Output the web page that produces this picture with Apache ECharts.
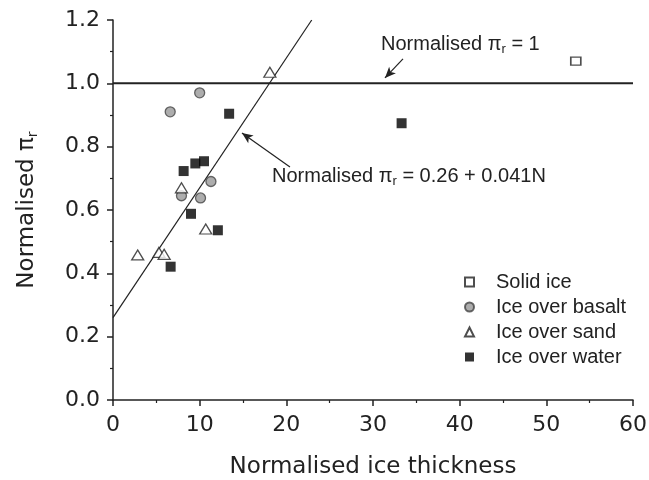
<!DOCTYPE html>
<html><head><meta charset="utf-8">
<script src="https://cdn.jsdelivr.net/npm/echarts@6/dist/echarts.min.js"></script>
<style>html,body{margin:0;padding:0;background:#fff}#c{width:649px;height:480px}</style>
</head><body><div id="c"></div>
<script>
// ---- data ----
const solidIceX = [53.4];
const solidIceY = [1.07];
const basaltX = [10.0, 6.6, 11.3, 7.9, 10.1];
const basaltY = [0.97, 0.91, 0.69, 0.645, 0.638];
const sandX = [18.1, 7.9, 10.7, 2.85, 5.3, 5.9];
const sandY = [1.035, 0.67, 0.54, 0.458, 0.466, 0.46];
const waterX = [13.4, 8.15, 9.5, 10.5, 9.0, 12.1, 6.65, 33.3];
const waterY = [0.904, 0.723, 0.747, 0.754, 0.588, 0.536, 0.421, 0.874];
const fitX = [0, 22.93];
const fitY = [0.26, 1.2];
const refX = [0, 60];
const refY = [1, 1];
const seriesNames = ['Solid ice', 'Ice over basalt', 'Ice over sand', 'Ice over water'];
const xTicks = [0, 10, 20, 30, 40, 50, 60];
const yTicks = [0.0, 0.2, 0.4, 0.6, 0.8, 1.0, 1.2];
// annotation arrows (data coords): [fromX, fromY, toX, toY]
const arrow1 = [33.46, 1.077, 31.38, 1.017];
const arrow2 = [20.42, 0.736, 14.88, 0.843];

const zip = (xs, ys) => xs.map((x, i) => [x, ys[i]]);
const FONT = "'Liberation Sans', Arial, sans-serif";
const AXFONT = "'DejaVu Sans', sans-serif";
const subRich = {
  sub: { fontSize: 13, fontFamily: FONT, color: '#222', padding: [10, 0, 0, 0] }
};
const subRichAx = {
  sub: { fontSize: 14, fontFamily: AXFONT, color: '#222', padding: [11, 0, 0, 0] }
};

const chart = echarts.init(document.getElementById('c'), null, { renderer: 'canvas' });
chart.setOption({
  animation: false,
  backgroundColor: '#fff',
  textStyle: { fontFamily: FONT, color: '#222' },
  grid: { left: 113, right: 16, top: 20, bottom: 80, containLabel: false, outerBoundsMode: 'none' },
  xAxis: {
    type: 'value', min: xTicks[0], max: xTicks[xTicks.length - 1], interval: 10,
    name: 'Normalised ice thickness', nameLocation: 'middle', nameGap: 56,
    nameTextStyle: { fontSize: 23, fontFamily: AXFONT, color: '#222' },
    axisLine: { show: true, lineStyle: { color: '#222', width: 1.5 } },
    axisTick: { show: true, inside: false, length: 6, lineStyle: { color: '#222', width: 1.5 } },
    minorTick: { show: true, splitNumber: 2, length: 3, lineStyle: { color: '#222', width: 1.2 } },
    axisLabel: { fontSize: 22, color: '#222', margin: 14, fontFamily: AXFONT },
    splitLine: { show: false }
  },
  yAxis: {
    type: 'value', min: yTicks[0], max: yTicks[yTicks.length - 1], interval: 0.2,
    name: 'Normalised π{sub|r}', nameLocation: 'middle', nameGap: 73,
    nameTextStyle: { fontSize: 23, fontFamily: AXFONT, color: '#222', rich: subRichAx },
    axisLine: { show: true, lineStyle: { color: '#222', width: 1.5 } },
    axisTick: { show: true, inside: false, length: 6, lineStyle: { color: '#222', width: 1.5 } },
    minorTick: { show: true, splitNumber: 2, length: 3, lineStyle: { color: '#222', width: 1.2 } },
    axisLabel: { fontSize: 22, color: '#222', margin: 13, fontFamily: AXFONT, formatter: v => v.toFixed(1) },
    splitLine: { show: false }
  },
  legend: {
    orient: 'vertical', left: 459, top: 267, itemGap: 5, itemWidth: 9, itemHeight: 9,
    data: seriesNames,
    textStyle: { fontSize: 20, fontFamily: FONT, color: '#222', padding: [0, 0, 0, 17] }
  },
  series: [
    {
      type: 'line', data: zip(refX, refY), symbol: 'none', silent: true,
      lineStyle: { color: '#222', width: 2 }, z: 1
    },
    {
      type: 'line', data: zip(fitX, fitY), symbol: 'none', silent: true,
      lineStyle: { color: '#222', width: 1.2 }, z: 1,
      markLine: {
        silent: true, symbol: ['none', 'arrow'], symbolSize: [7, 11],
        lineStyle: { color: '#222', width: 1.2, type: 'solid' }, label: { show: false },
        data: [
          [{ coord: [arrow1[0], arrow1[1]] }, { coord: [arrow1[2], arrow1[3]] }],
          [{ coord: [arrow2[0], arrow2[1]] }, { coord: [arrow2[2], arrow2[3]] }]
        ]
      }
    },
    {
      name: seriesNames[0], type: 'scatter', data: zip(solidIceX, solidIceY),
      symbol: 'rect', symbolSize: [10, 8],
      itemStyle: { color: '#fff', borderColor: '#222', borderWidth: 1.5 }, z: 3
    },
    {
      name: seriesNames[1], type: 'scatter', data: zip(basaltX, basaltY),
      symbol: 'circle', symbolSize: 10,
      itemStyle: { color: '#999', borderColor: '#444', borderWidth: 1.3 }, z: 3
    },
    {
      name: seriesNames[2], type: 'scatter', data: zip(sandX, sandY),
      symbol: 'triangle', symbolSize: [12, 10],
      itemStyle: { color: '#fff', borderColor: '#222', borderWidth: 1.3 }, z: 3
    },
    {
      name: seriesNames[3], type: 'scatter', data: zip(waterX, waterY),
      symbol: 'rect', symbolSize: 10,
      itemStyle: { color: '#000', borderColor: '#000', borderWidth: 0 }, z: 4
    }
  ],
  graphic: [
    {
      type: 'text', left: 381, top: 34,
      style: { text: 'Normalised π{sub|r} = 1', fontSize: 20, fontFamily: FONT, fill: '#222', rich: subRich }
    },
    {
      type: 'text', left: 272, top: 166,
      style: { text: 'Normalised π{sub|r} = 0.26 + 0.041N', fontSize: 20, fontFamily: FONT, fill: '#222', rich: subRich }
    }
  ]
});
</script></body></html>
